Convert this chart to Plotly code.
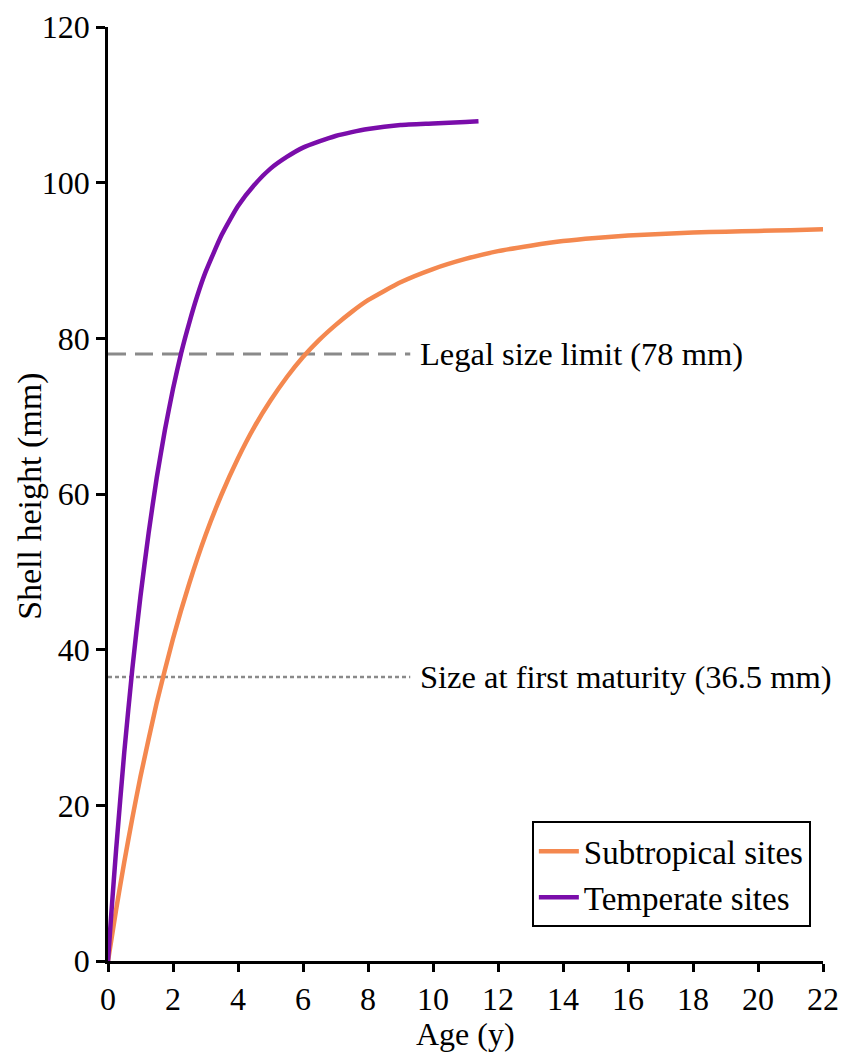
import plotly.graph_objects as go

# Growth in shell height with age (mm), by region
temperate_age = [0, 0.1, 0.25, 0.5, 0.75, 1, 1.25, 1.5, 1.75, 2, 2.25, 2.5, 2.75, 3,
                 3.5, 4, 4.5, 5, 5.5, 6, 6.5, 7, 7.5, 8, 9, 10, 11, 11.4]
temperate_height = [0, 6.0, 14.3, 26.8, 37.6, 46.9, 55.0, 62.1, 68.2, 73.5, 78.1, 82.0,
                    85.5, 88.5, 93.3, 97.0, 99.7, 101.8, 103.3, 104.5, 105.3, 106.0,
                    106.5, 106.9, 107.4, 107.6, 107.8, 107.9]

subtropical_age = [0, 0.25, 0.5, 0.75, 1, 1.5, 2, 2.5, 3, 3.5, 4, 4.5, 5, 5.5, 6, 6.5,
                   7, 7.5, 8, 9, 10, 11, 12, 13, 14, 15, 16, 17, 18, 19, 20, 21, 22]
subtropical_height = [0, 6.6, 12.7, 18.4, 23.7, 33.2, 41.4, 48.5, 54.7, 60.0, 64.6, 68.6,
                      72.0, 75.0, 77.6, 79.8, 81.7, 83.4, 84.9, 87.2, 88.9, 90.2, 91.2,
                      91.9, 92.5, 92.9, 93.2, 93.4, 93.6, 93.7, 93.8, 93.9, 94.0]

# Reference sizes (mm) and the age span their guide lines cover
legal_size_limit = 78
size_first_maturity = 36.5
guide_ages = [0, 9.3]
label_age = 9.55

x_ticks = list(range(0, 23, 2))
y_ticks = list(range(0, 121, 20))

FONT = "Liberation Serif, Times New Roman, Times, serif"
ORANGE = "#F4884F"
PURPLE = "#7A0DAA"
GREY = "#8A8A8A"

fig = go.Figure()

fig.add_trace(go.Scatter(
    x=guide_ages, y=[legal_size_limit] * len(guide_ages), mode="lines",
    line=dict(color=GREY, width=3, dash="18px,9px"), showlegend=False,
    hoverinfo="skip"))
fig.add_trace(go.Scatter(
    x=guide_ages, y=[size_first_maturity] * len(guide_ages), mode="lines",
    line=dict(color=GREY, width=2.5, dash="4px,3px"), showlegend=False,
    hoverinfo="skip"))

fig.add_trace(go.Scatter(
    x=subtropical_age, y=subtropical_height, mode="lines", name="Subtropical sites",
    line=dict(color=ORANGE, width=4.5, shape="spline", smoothing=0.5)))
fig.add_trace(go.Scatter(
    x=temperate_age, y=temperate_height, mode="lines", name="Temperate sites",
    line=dict(color=PURPLE, width=4.5, shape="spline", smoothing=0.5)))

fig.add_annotation(x=label_age, y=legal_size_limit, text="Legal size limit (78 mm)",
                   showarrow=False, xanchor="left", yanchor="middle",
                   font=dict(family=FONT, size=32.5, color="black"))
fig.add_annotation(x=label_age, y=size_first_maturity,
                   text="Size at first maturity (36.5 mm)",
                   showarrow=False, xanchor="left", yanchor="middle",
                   font=dict(family=FONT, size=32.5, color="black"))

# Axis titles placed in paper coordinates
fig.add_annotation(x=0.5, y=-0.0785, xref="paper", yref="paper", text="Age (y)",
                   showarrow=False, xanchor="center", yanchor="middle",
                   font=dict(family=FONT, size=32, color="black"))
fig.add_annotation(x=-0.109, y=0.497, xref="paper", yref="paper",
                   text="Shell height (mm)", textangle=-90,
                   showarrow=False, xanchor="center", yanchor="middle",
                   font=dict(family=FONT, size=34, color="black"))

axis_common = dict(
    showline=True, linecolor="black", linewidth=2.5, ticks="outside",
    tickwidth=2.5, tickcolor="black", showgrid=False, zeroline=False,
    tickfont=dict(family=FONT, size=32, color="black"), mirror=False,
)

fig.update_xaxes(range=[0, 22], tickvals=x_ticks, ticklen=8, **axis_common)
fig.update_yaxes(range=[0, 120], tickvals=y_ticks, ticklen=9, **axis_common)

fig.update_layout(
    width=846, height=1053,
    margin=dict(l=108, r=23, t=27, b=92, autoexpand=False),
    paper_bgcolor="white", plot_bgcolor="white",
    font=dict(family=FONT, color="black"),
    legend=dict(x=0.983, y=0.036, xanchor="right", yanchor="bottom",
                bgcolor="white", bordercolor="black", borderwidth=2,
                font=dict(family=FONT, size=33, color="black"),
                tracegroupgap=0, itemwidth=40),
)

fig.write_html("out.html")
